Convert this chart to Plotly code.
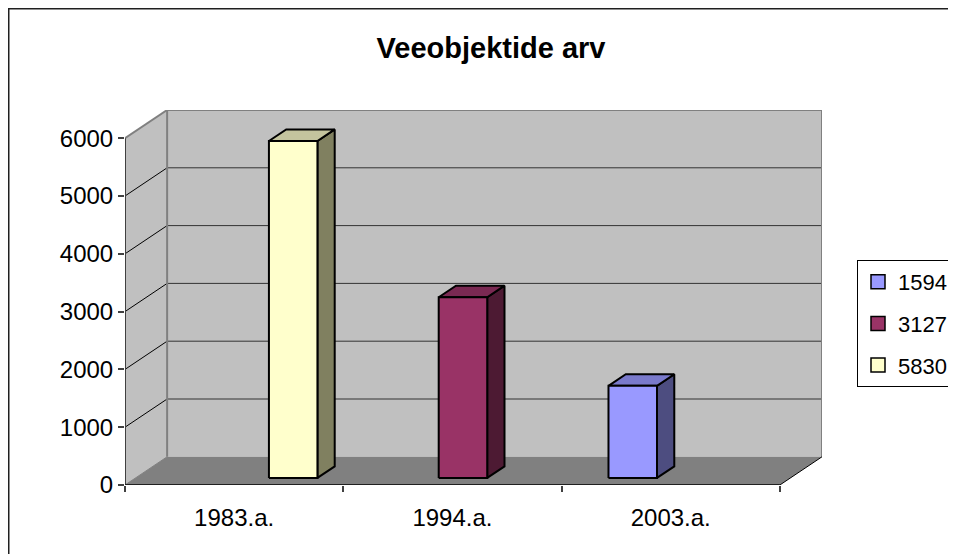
import plotly.graph_objects as go

# ---- data ----
categories = ["1983.a.", "1994.a.", "2003.a."]
series_names = ["1594", "3127", "5830"]
series_values = {
    "1594": [0, 0, 1594],
    "3127": [0, 3127, 0],
    "5830": [5830, 0, 0],
}
y_ticks = [0, 1000, 2000, 3000, 4000, 5000, 6000]
title_text = "Veeobjektide arv"

# ---- style ----
front_colors = {"1594": "#9999FF", "3127": "#993366", "5830": "#FFFFCC"}
top_colors = {"1594": "#7A7ACC", "3127": "#7A2952", "5830": "#C4C49E"}
side_colors = {"1594": "#4D4D80", "3127": "#4D1A33", "5830": "#808060"}
FONT = "Liberation Sans, Arial, sans-serif"

ncat = len(categories)
ymax = y_ticks[-1]
DX = 0.193          # depth shift in category units
DY = 488.0          # depth shift in value units
F0, F1 = 0.25, 0.66  # bar depth fractions
nser = len(series_names)
gap = 1.5
w = 1.0 / (nser + gap)
left_pad = gap * w / 2

fig = go.Figure()


def poly(xs, ys, fill, line_color="black", lw=0):
    fig.add_trace(go.Scatter(
        x=list(xs) + [xs[0]], y=list(ys) + [ys[0]], mode="lines", fill="toself",
        fillcolor=fill, line=dict(color=line_color, width=lw),
        hoverinfo="skip", showlegend=False))


def seg(xs, ys, color, lw):
    fig.add_trace(go.Scatter(x=xs, y=ys, mode="lines", line=dict(color=color, width=lw),
                             hoverinfo="skip", showlegend=False))


# walls
poly([0, DX, DX, 0], [0, DY, ymax + DY, ymax], "#C0C0C0")                      # side wall
poly([DX, ncat + DX, ncat + DX, DX], [DY, DY, ymax + DY, ymax + DY], "#C0C0C0")  # back wall
poly([0, ncat, ncat + DX, DX], [0, 0, DY, DY], "#808080")                       # floor

# gridlines
for v in y_ticks[1:-1]:
    seg([DX, ncat + DX], [v + DY, v + DY], "#333333", 1)
    seg([0, DX], [v, v + DY], "#000000", 1)

# wall outlines
seg([DX, DX, ncat + DX, ncat + DX], [DY, ymax + DY, ymax + DY, DY], "#808080", 2)
seg([0, DX], [ymax, ymax + DY], "#808080", 2)
seg([0, DX], [0, DY], "#808080", 1)
# front axis edges
seg([0, 0], [0, ymax], "#404040", 2)
seg([0, ncat], [0, 0], "#202020", 2)
seg([ncat, ncat + DX], [0, DY], "#000000", 1)

# bars
for si, name in enumerate(series_names):
    for ci, v in enumerate(series_values[name]):
        if v <= 0:
            continue
        x0 = ci + left_pad + si * w
        x1 = x0 + w
        a0x, a0y = F0 * DX, F0 * DY
        a1x, a1y = F1 * DX, F1 * DY
        # side face
        poly([x1 + a0x, x1 + a1x, x1 + a1x, x1 + a0x],
             [a0y, a1y, v + a1y, v + a0y], side_colors[name], "black", 2)
        # top face
        poly([x0 + a0x, x1 + a0x, x1 + a1x, x0 + a1x],
             [v + a0y, v + a0y, v + a1y, v + a1y], top_colors[name], "black", 2)
        # front face
        poly([x0 + a0x, x1 + a0x, x1 + a0x, x0 + a0x],
             [a0y, a0y, v + a0y, v + a0y], front_colors[name], "black", 2)

# legend entries
for name in series_names:
    fig.add_trace(go.Scatter(
        x=[None], y=[None], mode="markers", name=name, legendgroup=name,
        marker=dict(symbol="square", size=14, color=front_colors[name],
                    line=dict(color="black", width=1.5))))

W, H = 956, 554
# page has an 8px body margin: figure pixel = reference pixel - 8
L, R, T, B = 117, 142, 102, 77
pw = W - L - R
ph = H - T - B

fig.update_layout(
    width=W, height=H,
    margin=dict(l=L, r=R, t=T, b=B, autoexpand=False),
    paper_bgcolor="white", plot_bgcolor="white",
    font=dict(family=FONT, size=24, color="black"),
    title=dict(text="<b>" + title_text + "</b>", x=483 / W, xanchor="center",
               y=1 - 40 / H, yanchor="middle", xref="container", yref="container",
               font=dict(family=FONT, size=29, color="black")),
    xaxis=dict(range=[0, ncat + DX], showgrid=False, zeroline=False, showline=False,
               tickmode="array", tickvals=[i + 0.5 for i in range(ncat)], ticktext=categories,
               ticks="outside", ticklen=11, tickcolor="rgba(0,0,0,0)",
               minor=dict(tickmode="array", tickvals=list(range(ncat + 1)), ticks="outside",
                          ticklen=6, tickcolor="#404040", tickwidth=1.5),
               tickfont=dict(size=24), fixedrange=True),
    yaxis=dict(range=[0, ymax + DY], showgrid=False, zeroline=False, showline=False,
               tickmode="array", tickvals=y_ticks, ticktext=[str(t) for t in y_ticks],
               ticks="outside", ticklen=6, tickcolor="#404040", tickwidth=1.5,
               tickfont=dict(size=24), fixedrange=True),
    legend=dict(x=(849 - L) / pw, xanchor="left", y=(H - B - 252) / ph, yanchor="top",
                bordercolor="black", borderwidth=1, bgcolor="white",
                font=dict(size=22), traceorder="grouped", tracegroupgap=10,
                itemwidth=30),
    showlegend=True,
    shapes=[dict(type="rect", xref="paper", yref="paper",
                 x0=(0.5 - L) / pw, x1=(W + 20 - L) / pw,
                 y0=-(B + 20) / ph, y1=(H - B - 0.5) / ph,
                 line=dict(color="#202020", width=2), fillcolor="rgba(0,0,0,0)")],
)

fig.write_html("out.html")
